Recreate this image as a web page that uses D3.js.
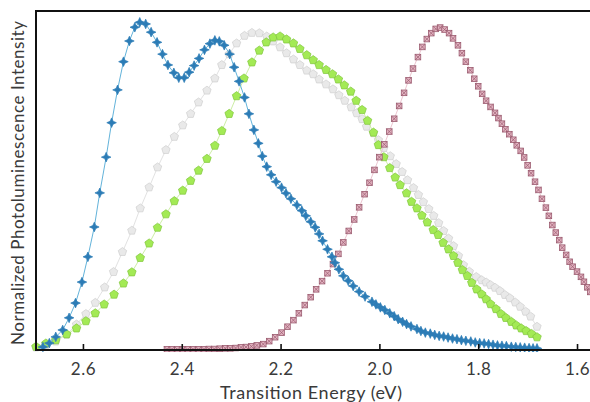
<!DOCTYPE html>
<html>
<head>
<meta charset="utf-8">
<script src="https://cdn.jsdelivr.net/npm/d3@7"></script>
<style>
body { margin: 0; background: #fff; }
svg text { font-family: "Lato", "DejaVu Sans", sans-serif; fill: #3a3a3a; }
</style>
</head>
<body>
<div id="chart-area"></div>
<script>
// energies (eV) and normalized intensities
var blueEnergy = [2.681,2.668,2.655,2.641,2.628,2.615,2.602,2.590,2.577,2.566,2.553,2.542,2.530,2.518,2.506,2.495,2.485,2.473,2.462,2.450,2.439,2.428,2.416,2.406,2.395,2.385,2.375,2.365,2.354,2.343,2.333,2.324,2.314,2.303,2.294,2.284,2.273,2.264,2.254,2.245,2.237,2.228,2.219,2.209,2.198,2.189,2.179,2.167,2.157,2.149,2.139,2.130,2.122,2.115,2.105,2.096,2.090,2.082,2.073,2.063,2.053,2.041,2.029,2.015,2.007,1.998,1.989,1.979,1.970,1.962,1.953,1.945,1.936,1.924,1.916,1.907,1.897,1.888,1.879,1.870,1.861,1.852,1.843,1.834,1.825,1.815,1.806,1.797,1.788,1.779,1.770,1.761,1.752,1.743,1.733,1.724,1.715,1.706,1.697,1.689,1.681];
var blueIntensity = [0.009,0.021,0.040,0.061,0.098,0.143,0.207,0.284,0.375,0.479,0.588,0.693,0.793,0.879,0.942,0.984,0.999,0.994,0.969,0.938,0.902,0.869,0.845,0.830,0.830,0.847,0.867,0.889,0.915,0.934,0.944,0.941,0.929,0.902,0.862,0.819,0.770,0.720,0.671,0.630,0.591,0.559,0.534,0.513,0.495,0.478,0.461,0.442,0.425,0.409,0.391,0.374,0.354,0.333,0.307,0.284,0.266,0.246,0.226,0.211,0.195,0.178,0.163,0.147,0.139,0.130,0.122,0.112,0.103,0.094,0.086,0.079,0.072,0.064,0.058,0.053,0.050,0.046,0.043,0.041,0.038,0.035,0.033,0.030,0.028,0.026,0.023,0.021,0.020,0.018,0.016,0.014,0.013,0.012,0.010,0.009,0.008,0.007,0.006,0.005,0.005];

var greyEnergy = [2.695,2.675,2.655,2.633,2.613,2.594,2.575,2.556,2.538,2.520,2.501,2.484,2.466,2.449,2.432,2.415,2.398,2.382,2.366,2.349,2.333,2.319,2.304,2.289,2.273,2.258,2.243,2.228,2.215,2.201,2.188,2.174,2.161,2.147,2.134,2.122,2.108,2.094,2.082,2.070,2.057,2.046,2.035,2.026,2.012,2.002,1.991,1.978,1.966,1.954,1.943,1.931,1.921,1.911,1.900,1.890,1.880,1.870,1.860,1.850,1.840,1.830,1.818,1.804,1.793,1.784,1.775,1.766,1.756,1.746,1.736,1.725,1.715,1.704,1.694,1.681];
var greyIntensity = [0.008,0.015,0.026,0.047,0.078,0.110,0.144,0.191,0.238,0.299,0.364,0.432,0.496,0.557,0.610,0.650,0.685,0.720,0.755,0.791,0.828,0.869,0.902,0.935,0.958,0.967,0.966,0.956,0.941,0.923,0.905,0.886,0.869,0.852,0.841,0.825,0.810,0.795,0.777,0.760,0.740,0.722,0.704,0.681,0.661,0.640,0.616,0.591,0.567,0.543,0.518,0.494,0.473,0.451,0.430,0.409,0.387,0.363,0.340,0.317,0.287,0.259,0.239,0.223,0.213,0.206,0.198,0.190,0.180,0.168,0.158,0.145,0.132,0.117,0.102,0.071];

var greenEnergy = [2.695,2.675,2.655,2.633,2.613,2.594,2.575,2.557,2.537,2.518,2.501,2.484,2.466,2.449,2.432,2.415,2.398,2.382,2.366,2.349,2.333,2.319,2.304,2.289,2.274,2.258,2.243,2.229,2.215,2.201,2.188,2.174,2.161,2.147,2.134,2.122,2.108,2.095,2.083,2.071,2.058,2.047,2.035,2.024,2.012,2.002,1.991,1.979,1.968,1.958,1.945,1.935,1.924,1.914,1.903,1.891,1.881,1.871,1.860,1.850,1.841,1.832,1.822,1.813,1.803,1.793,1.784,1.775,1.764,1.754,1.744,1.733,1.723,1.713,1.703,1.692,1.681];
var greenIntensity = [0.010,0.020,0.030,0.048,0.066,0.088,0.112,0.139,0.169,0.203,0.237,0.281,0.325,0.373,0.414,0.454,0.486,0.516,0.547,0.583,0.623,0.668,0.720,0.774,0.828,0.877,0.913,0.938,0.953,0.956,0.947,0.935,0.918,0.899,0.884,0.869,0.854,0.841,0.825,0.807,0.788,0.760,0.732,0.699,0.663,0.625,0.588,0.555,0.526,0.503,0.478,0.452,0.432,0.410,0.389,0.366,0.351,0.327,0.307,0.287,0.266,0.244,0.226,0.205,0.185,0.170,0.155,0.140,0.125,0.110,0.098,0.086,0.075,0.066,0.058,0.049,0.039];

var pinkEnergy = [2.430,2.420,2.409,2.398,2.388,2.377,2.366,2.355,2.345,2.334,2.323,2.312,2.302,2.291,2.280,2.270,2.259,2.248,2.235,2.223,2.211,2.198,2.186,2.174,2.163,2.151,2.139,2.128,2.116,2.105,2.094,2.083,2.073,2.062,2.051,2.041,2.030,2.020,2.010,2.000,1.990,1.980,1.970,1.960,1.950,1.941,1.932,1.922,1.913,1.904,1.895,1.886,1.877,1.868,1.859,1.851,1.841,1.833,1.825,1.816,1.808,1.800,1.792,1.784,1.775,1.766,1.759,1.752,1.745,1.737,1.729,1.722,1.714,1.707,1.700,1.693,1.685,1.678,1.671,1.663,1.657,1.650,1.643,1.636,1.630,1.622,1.615,1.609,1.600,1.592,1.586,1.579,1.573,1.565];
var pinkIntensity = [0.002,0.002,0.002,0.002,0.002,0.002,0.002,0.002,0.003,0.003,0.004,0.005,0.005,0.006,0.008,0.009,0.011,0.014,0.018,0.027,0.039,0.053,0.071,0.091,0.112,0.137,0.161,0.185,0.210,0.234,0.262,0.293,0.328,0.363,0.398,0.435,0.475,0.510,0.549,0.588,0.627,0.666,0.705,0.744,0.784,0.822,0.858,0.893,0.924,0.948,0.966,0.979,0.983,0.977,0.966,0.950,0.929,0.905,0.879,0.853,0.827,0.804,0.781,0.760,0.741,0.723,0.707,0.690,0.673,0.658,0.641,0.624,0.607,0.587,0.563,0.539,0.513,0.488,0.461,0.434,0.409,0.381,0.358,0.335,0.312,0.290,0.269,0.254,0.239,0.223,0.208,0.191,0.177,0.162];

var xTicks = [2.6, 2.4, 2.2, 2.0, 1.8, 1.6];

var margin = {left: 36, top: 11};
var width = 564;
var height = 339;

var svg = d3.select("#chart-area").append("svg")
    .attr("width", 590)
    .attr("height", 402);

var g = svg.append("g")
    .attr("transform", "translate(" + margin.left + "," + margin.top + ")");

var x = d3.scaleLinear()
    .domain([2.695, 1.5535])
    .range([0, width]);

var y = d3.scaleLinear()
    .domain([0, 1.0335])
    .range([height, 0]);

g.append("clipPath").attr("id", "plot-clip")
    .append("rect")
    .attr("x", -6).attr("y", -2)
    .attr("width", width + 6).attr("height", height + 4);

function pairs(es, is) {
    var n = Math.min(es.length, is.length);
    var out = [];
    for (var i = 0; i < n; i++) out.push({e: es[i], v: is[i]});
    return out;
}

function pentagon(r) {
    var pts = [];
    for (var k = 0; k < 5; k++) {
        var a = -Math.PI / 2 + k * 2 * Math.PI / 5;
        pts.push([r * Math.cos(a), r * Math.sin(a)]);
    }
    return "M" + pts.join("L") + "Z";
}

function star4(r, ri) {
    var pts = [];
    for (var k = 0; k < 8; k++) {
        var a = -Math.PI / 2 + k * Math.PI / 4;
        var rr = (k % 2 === 0) ? r : ri;
        pts.push([rr * Math.cos(a), rr * Math.sin(a)]);
    }
    return "M" + pts.join("L") + "Z";
}

var series = [
    {name: "grey", data: pairs(greyEnergy, greyIntensity), line: "#e2e2e2", fill: "#e9e9e9", stroke: "#cfcfcf", marker: pentagon(4.4)},
    {name: "green", data: pairs(greenEnergy, greenIntensity), line: "#cdeea6", fill: "#a3ea55", stroke: "#7fc63b", marker: pentagon(4.5)},
    {name: "pink", data: pairs(pinkEnergy, pinkIntensity), line: "#ecc6d0", fill: "#e2b2c0", stroke: "#9a5a6e", marker: "box"},
    {name: "blue", data: pairs(blueEnergy, blueIntensity), line: "#63b3da", fill: "#2c7cb6", stroke: "#2c7cb6", marker: star4(4.8, 2.1)}
];

var line = d3.line()
    .x(function(d) { return x(d.e); })
    .y(function(d) { return y(d.v); });

var plot = g.append("g").attr("clip-path", "url(#plot-clip)");

series.forEach(function(s) {
    var sg = plot.append("g").attr("class", "series-" + s.name);

    sg.append("path")
        .datum(s.data)
        .attr("fill", "none")
        .attr("stroke", s.line)
        .attr("stroke-width", 1)
        .attr("d", line);

    var pts = sg.selectAll("g.pt").data(s.data).enter()
        .append("g")
        .attr("class", "pt")
        .attr("transform", function(d) { return "translate(" + x(d.e) + "," + y(d.v) + ")"; });

    if (s.marker === "box") {
        pts.append("rect")
            .attr("x", -2.8).attr("y", -2.8)
            .attr("width", 5.6).attr("height", 5.6)
            .attr("fill", s.fill)
            .attr("stroke", s.stroke)
            .attr("stroke-width", 0.8);
        pts.append("path")
            .attr("d", "M-2.8,-2.8L2.8,2.8M2.8,-2.8L-2.8,2.8")
            .attr("stroke", s.stroke)
            .attr("stroke-width", 0.7);
    } else {
        pts.append("path")
            .attr("d", s.marker)
            .attr("fill", s.fill)
            .attr("stroke", s.stroke)
            .attr("stroke-width", 0.7);
    }
});

// x axis with inward ticks
var xAxisCall = d3.axisBottom(x)
    .tickValues(xTicks)
    .tickFormat(d3.format(".1f"))
    .tickSizeInner(-6)
    .tickSizeOuter(0)
    .tickPadding(13);

var xAxis = g.append("g")
    .attr("class", "x-axis")
    .attr("transform", "translate(0," + height + ")")
    .call(xAxisCall);
xAxis.select(".domain").remove();
xAxis.selectAll(".tick line").attr("stroke", "#111").attr("stroke-width", 1.6);
xAxis.selectAll(".tick text").attr("font-size", "17px").attr("fill", "#3a3a3a")
    .attr("letter-spacing", "0.5px");

// frame: bottom, left, top
g.append("line").attr("x1", -1).attr("x2", width).attr("y1", height).attr("y2", height)
    .attr("stroke", "#111").attr("stroke-width", 2);
g.append("line").attr("x1", 0).attr("x2", 0).attr("y1", 0).attr("y2", height + 1)
    .attr("stroke", "#111").attr("stroke-width", 2);
g.append("line").attr("x1", -1).attr("x2", width).attr("y1", 0).attr("y2", 0)
    .attr("stroke", "#111").attr("stroke-width", 2);

g.append("text")
    .attr("class", "x axis-label")
    .attr("x", 311 - margin.left)
    .attr("y", 399 - margin.top)
    .attr("font-size", "18px")
    .attr("text-anchor", "middle")
    .attr("textLength", 182)
    .text("Transition Energy (eV)");

g.append("text")
    .attr("class", "y axis-label")
    .attr("transform", "rotate(-90)")
    .attr("x", -(183 - margin.top))
    .attr("y", 24 - margin.left)
    .attr("font-size", "17px")
    .attr("text-anchor", "middle")
    .attr("textLength", 324)
    .text("Normalized Photoluminescence Intensity");
</script>
</body>
</html>
